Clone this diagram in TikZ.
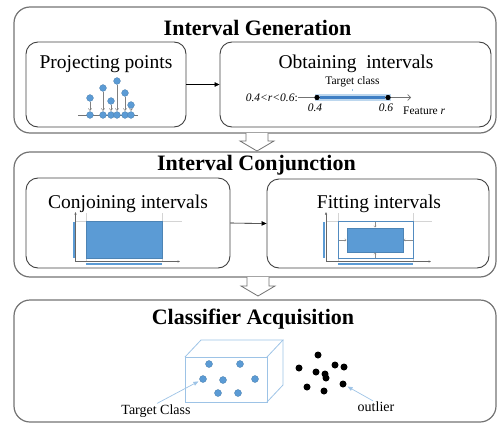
\documentclass[tikz,border=0pt]{standalone}
\usepackage{fontspec}
\setmainfont{Liberation Serif}
\usetikzlibrary{arrows.meta,calc}
\definecolor{dotblue}{HTML}{5B9BD5}
\definecolor{lineblue}{HTML}{9DC3E6}
\definecolor{bandblue}{HTML}{BDD7EE}
\definecolor{guide}{HTML}{D4D4D4}
\definecolor{darkbar}{HTML}{3F7FC4}
\begin{document}
\begin{tikzpicture}[x=1pt,y=-1pt,
  outerbox/.style={draw=black!55,line width=1.2pt,rounded corners=16pt,minimum width=482pt,inner sep=0pt},
  innerbox/.style={draw=black!75,line width=0.9pt,rounded corners=12pt,inner sep=0pt},
  titletext/.style={font=\fontsize{22}{24}\selectfont\bfseries,inner sep=0pt},
  subtext/.style={font=\fontsize{19.5}{22}\selectfont,inner sep=0pt},
  smalltext/.style={font=\fontsize{11.5}{13}\selectfont,inner sep=0pt},
  labeltext/.style={font=\fontsize{14}{16}\selectfont,inner sep=0pt},
  bdot/.style={circle,fill=dotblue,draw=dotblue!80!black,line width=0.3pt,inner sep=0pt,minimum size=6.8pt},
  kdot/.style={circle,fill=black,inner sep=0pt,minimum size=7pt},
  sdot/.style={circle,fill=black,inner sep=0pt,minimum size=5pt},
  proj/.style={draw=black!50,line width=0.5pt,-{Straight Barb[length=2pt,width=3.5pt]},shorten >=0.6pt},
  flow/.style={draw=black,line width=0.6pt,-{Triangle[length=5pt,width=4.5pt]}},
  blockarrow/.style={draw=black!55,line width=0.8pt,fill=white},
  axis/.style={draw=black!60,line width=0.5pt,-{Triangle[length=2.5pt,width=2pt]}},
  guideline/.style={draw=guide,line width=0.4pt},
  pointer/.style={draw=lineblue,line width=0.7pt,-{Triangle[length=5pt,width=4pt]},shorten >=1.5pt},
  tinyarr/.style={draw=black!45,line width=0.4pt,-{Straight Barb[length=1.5pt,width=2.5pt]}}
]
\useasboundingbox (0,0) rectangle (498,423);

% ---------- outer boxes ----------
\node[outerbox,minimum height=126pt] (o1) at (255,70) {};
\node[outerbox,minimum height=125pt] (o2) at (255,214.5) {};
\node[outerbox,minimum height=122pt] (o3) at (255,361) {};

\node[titletext] (t1) at (257.5,28) {Interval Generation};
\node[titletext] (t2) at (256.5,165) {Interval Conjunction};
\node[titletext] (t3) at (253,319) {Classifier Acquisition};

% ---------- block arrows ----------
\coordinate (a1) at (257,133);
\coordinate (a2) at (258,277);
\draw[blockarrow,shift={(a1)}] (-11,0) -- (-11,8) -- (-17,8) -- (0,18) -- (17,8) -- (11,8) -- (11,0);
\draw[blockarrow,shift={(a2)}] (-11,0) -- (-11,9) -- (-17,9) -- (0,19) -- (17,9) -- (11,9) -- (11,0);

% ---------- inner boxes ----------
\node[innerbox,minimum width=160pt,minimum height=85pt] (i1) at (106,84.5) {};
\node[innerbox,minimum width=271pt,minimum height=85pt] (i2) at (355.5,84.5) {};
\node[innerbox,minimum width=204pt,minimum height=90pt] (i3) at (128,223) {};
\node[innerbox,minimum width=222pt,minimum height=89pt] (i4) at (378,223.5) {};

\node[subtext] (s1) at (106,64) {Projecting points};
\node[subtext] (s2) at (356,64) {Obtaining\ \ intervals};
\node[subtext] (s3) at (128,204) {Conjoining intervals};
\node[subtext] (s4) at (379,204) {Fitting intervals};

\draw[flow] (i1.east) -- (i2.west);
\draw[flow] (i3.east) -- (i4.west);

% ---------- projecting points ----------
\coordinate (pl) at (78,115);
\coordinate (pr) at (138,115);
\draw[black!55,line width=0.6pt] (pl) -- (pr);
\foreach \n/\x/\y in {1/90/98,2/103/88,3/111/101,4/117/81,5/125/93,6/131/105}{
  \node[bdot] (bot\n) at (\x,115) {};
  \node[bdot] (top\n) at (\x,\y) {};
}
\foreach \n in {1,...,6}{ \draw[proj] (top\n) -- (bot\n); }

% ---------- obtaining intervals ----------
\fill[bandblue] (315,93.5) rectangle (391,101);
\coordinate (ax0) at (298,97.5);
\coordinate (ax1) at (411,97.5);
\draw[black!55,line width=0.6pt,-{Straight Barb[length=3pt,width=6pt]}] (ax0) -- (ax1);
\node[sdot] (d04) at (317,97.5) {};
\node[sdot] (d06) at (388,97.5) {};
\draw[darkbar,line width=2.6pt] (d04) -- (d06);
\node[sdot] at (317,97.5) {};
\node[sdot] at (388,97.5) {};
\draw[lineblue,line width=0.6pt] (352,89) -- (352,91);
\node[smalltext] (tcl) at (352.5,82) {Target class};
\node[smalltext,anchor=east] (cond) at (298,98) {\textit{0.4<r<0.6}:};
\node[smalltext] (l04) at (315,108) {\textit{0.4}};
\node[smalltext] (l06) at (386,108) {\textit{0.6}};
\node[smalltext,anchor=west] (feat) at (403,111) {Feature \textit{r}};

% ---------- conjoining chart ----------
\coordinate (c0) at (75.5,261.5);
\draw[guideline] (75.5,221) -- (182,221);
\draw[guideline] (86,213) -- (86,261.5);
\draw[guideline] (162,213) -- (162,261.5);
\draw[axis] (c0) -- (75.5,212);
\draw[axis] (c0) -- (180,261.5);
\fill[dotblue,draw=dotblue!85!black,line width=0.3pt] (86,221) rectangle (162,258);
\draw[dotblue,line width=2pt] (73.5,222) -- (73.5,258);
\draw[dotblue,line width=2pt] (86,263.5) -- (162,263.5);

% ---------- fitting chart ----------
\coordinate (f0) at (326,261.5);
\draw[guideline] (326,221) -- (432,221);
\draw[guideline] (338,213) -- (338,261.5);
\draw[guideline] (413,213) -- (413,261.5);
\draw[axis] (f0) -- (326,212);
\draw[axis] (f0) -- (431,261.5);
\draw[dotblue!90!black,line width=0.8pt] (338,221) rectangle (413,258);
\fill[dotblue,draw=dotblue!85!black,line width=0.3pt] (347,228) rectangle (403,252);
\draw[tinyarr] (375,221.5) -- (375,227.5);
\draw[tinyarr] (375,257.5) -- (375,252.5);
\draw[tinyarr] (338.5,240) -- (346.5,240);
\draw[tinyarr] (412.5,240) -- (403.5,240);
\draw[dotblue,line width=2pt] (324,222) -- (324,258);
\draw[dotblue,line width=2pt] (338,263.5) -- (413,263.5);

% ---------- cube ----------
\coordinate (fa) at (185,357);
\coordinate (fb) at (267,357);
\coordinate (fc) at (267,402);
\coordinate (fd) at (185,402);
\coordinate (ba) at (201,340);
\coordinate (bb) at (283,340);
\coordinate (bc) at (283,385);
\draw[lineblue,line width=0.8pt] (fa) -- (fb) -- (fc) -- (fd) -- cycle;
\draw[lineblue,line width=0.8pt] (fa) -- (ba) -- (bb) -- (fb);
\draw[lineblue,line width=0.8pt] (bb) -- (bc) -- (fc);

\foreach \n/\x/\y in {1/209/364,2/240/364,3/203/379,4/223/380,5/255/379,6/218/393,7/238/393}{
  \node[bdot,minimum size=7pt] (cd\n) at (\x,\y) {};
}
\foreach \n/\x/\y in {1/318/355,2/299/368,3/335/365,4/344/367,5/316/372,6/325/374,7/326/378,8/307/387,9/343/384,10/324/391}{
  \node[kdot] (od\n) at (\x,\y) {};
}

\node[labeltext] (tcb) at (156,411) {Target Class};
\node[labeltext] (olb) at (376,407) {outlier};
\draw[pointer] ($(tcb.north)+(1,-1)$) -- (cd3);
\draw[pointer] ($(olb.north)+(-3,-1)$) -- (od9);
\end{tikzpicture}
\end{document}
